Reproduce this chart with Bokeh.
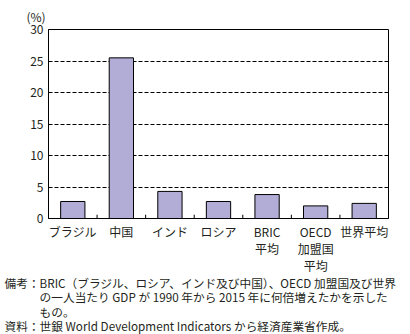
from bokeh.plotting import figure
from bokeh.models import Range1d, FixedTicker, Title, ColumnDataSource
from bokeh.embed import file_html
from bokeh.resources import INLINE

categories = ["ブラジル", "中国", "インド", "ロシア", "BRIC\n平均", "OECD\n加盟国\n平均", "世界平均"]
values = [2.7, 25.5, 4.3, 2.7, 3.8, 2.0, 2.4]
y_ticks = [0, 5, 10, 15, 20, 25, 30]
notes = (
    "備考：BRIC（ブラジル、ロシア、インド及び中国）、OECD 加盟国及び世界\n"
    "　　　の一人当たり GDP が 1990 年から 2015 年に何倍増えたかを示した\n"
    "　　　もの。\n"
    "資料：世銀 World Development Indicators から経済産業省作成。"
)

FONT = "Noto Sans CJK JP"
TXT = "#231f20"

xs = [i + 0.5 for i in range(len(categories))]
src = ColumnDataSource(dict(x=xs, top=values))

p = figure(width=410, height=334, output_backend="svg", toolbar_location=None,
           x_range=Range1d(0, len(categories)), y_range=Range1d(0, 30),
           min_border_left=48, min_border_right=22, min_border_top=29, min_border_bottom=116)
p.background_fill_color = "white"
p.border_fill_color = "white"
p.outline_line_color = "black"
p.outline_line_width = 1

p.vbar(x="x", top="top", bottom=0, width=0.5, source=src,
       fill_color="#b2add6", line_color="black", line_width=1)

bounds = list(range(1, len(categories)))
p.segment(x0=bounds, y0=[0] * len(bounds), x1=bounds, y1=[0.6] * len(bounds),
          line_color="black", line_width=1)

p.xgrid.visible = False
p.ygrid.ticker = FixedTicker(ticks=y_ticks[1:-1])
p.ygrid.grid_line_color = "black"
p.ygrid.grid_line_dash = "4 2"
p.ygrid.grid_line_width = 1

p.xaxis.ticker = FixedTicker(ticks=xs)
p.xaxis.major_label_overrides = {x: c for x, c in zip(xs, categories)}
p.yaxis.ticker = FixedTicker(ticks=y_ticks)
for ax in (p.xaxis, p.yaxis):
    ax.major_tick_line_color = None
    ax.minor_tick_line_color = None
    ax.major_tick_in = 0
    ax.major_tick_out = 0
    ax.axis_line_color = "black"
    ax.major_label_text_font = FONT
    ax.major_label_text_font_size = "12px"
    ax.major_label_text_color = TXT
p.xaxis.major_label_text_line_height = 1.0
p.xaxis.major_label_standoff = 4
p.yaxis.major_label_standoff = 5

top_t = Title(text="(%)", align="left", offset=-22, standoff=10,
              text_font=FONT, text_font_size="12px", text_color=TXT,
              text_font_style="normal")
p.add_layout(top_t, "above")

p.add_layout(Title(text=notes, align="left", offset=-44, standoff=-9,
                   text_font=FONT, text_font_size="11.7px", text_color=TXT,
                   text_font_style="normal", text_line_height=0.85), "below")

open("out.html", "w").write(file_html(p, INLINE))
